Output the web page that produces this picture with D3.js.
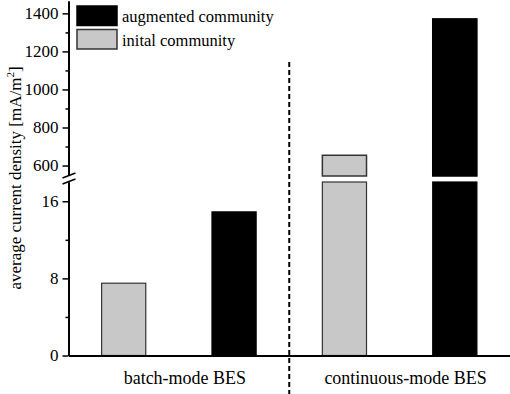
<!DOCTYPE html>
<html>
<head>
<meta charset="utf-8">
<script src="https://cdn.jsdelivr.net/npm/d3@7"></script>
<style>
  body { margin: 0; background: #fff; }
  svg text { font-family: "Liberation Serif", "Times New Roman", serif; }
</style>
</head>
<body>
<svg id="chart" width="510" height="394"></svg>
<script>
// data
var groups = ["batch-mode BES", "continuous-mode BES"]
var series = ["inital community", "augmented community"]
var initialValues = [7.5, 654]
var augmentedValues = [14.9, 1371]
var upperTicks = [600, 800, 1000, 1200, 1400]
var upperMinor = [700, 900, 1100, 1300]
var lowerTicks = [0, 8, 16]
var lowerMinor = [4, 12]

var colors = { "inital community": "#c8c8c8", "augmented community": "#000" }
var strokes = { "inital community": "#333", "augmented community": "#000" }

var rows = []
groups.forEach(function(g, i) {
    rows.push({ group: g, series: series[0], value: initialValues[i] })
    rows.push({ group: g, series: series[1], value: augmentedValues[i] })
})

var svg = d3.select("#chart")
var left = 68.5, right = 510, bottom = 355.5

var x = d3.scaleBand().domain(groups).range([left, right]).padding(0)
var xIn = d3.scaleBand().domain(series).range([0, x.bandwidth()])
    .paddingInner(0.6).paddingOuter(0.3)

// broken y axis: lower and upper segments
var lowMax = 18, upMin = 545
var yLow = d3.scaleLinear().domain([0, lowMax]).range([bottom, 182])
var yUp = d3.scaleLinear().domain([upMin, 1465]).range([176, 1])

// bars
var bars = svg.append("g")
rows.forEach(function(d) {
    var bx = x(d.group) + xIn(d.series)
    var top = d.value > lowMax ? yLow(lowMax) : yLow(d.value)
    bars.append("rect")
        .attr("x", bx).attr("y", top)
        .attr("width", xIn.bandwidth())
        .attr("height", yLow(0) - top)
        .attr("fill", colors[d.series])
        .attr("stroke", strokes[d.series])
        .attr("stroke-width", 1.2)
    if (d.value > lowMax) {
        bars.append("rect")
            .attr("x", bx).attr("y", yUp(d.value))
            .attr("width", xIn.bandwidth())
            .attr("height", yUp(upMin) - yUp(d.value))
            .attr("fill", colors[d.series])
            .attr("stroke", strokes[d.series])
            .attr("stroke-width", 1.5)
    }
})

// y axes
function styleAxis(g) {
    g.attr("font-family", "Liberation Serif").attr("font-size", 17)
    g.selectAll("path").attr("stroke", "#000").attr("stroke-width", 2)
    g.selectAll("line").attr("stroke", "#000").attr("stroke-width", 1.5)
    g.selectAll("text").attr("fill", "#000")
}

var fmt = d3.format("d")
svg.append("g").attr("transform", "translate(" + left + ",0)")
    .call(d3.axisLeft(yUp).tickValues(upperMinor).tickSize(3).tickFormat("").tickSizeOuter(0))
    .call(styleAxis)
svg.append("g").attr("transform", "translate(" + left + ",0)")
    .call(d3.axisLeft(yUp).tickValues(upperTicks).tickSize(6).tickPadding(4).tickFormat(fmt).tickSizeOuter(0))
    .call(styleAxis)
svg.append("g").attr("transform", "translate(" + left + ",0)")
    .call(d3.axisLeft(yLow).tickValues(lowerMinor).tickSize(3).tickFormat("").tickSizeOuter(0))
    .call(styleAxis)
svg.append("g").attr("transform", "translate(" + left + ",0)")
    .call(d3.axisLeft(yLow).tickValues(lowerTicks).tickSize(6).tickPadding(4).tickFormat(fmt).tickSizeOuter(0))
    .call(styleAxis)

// axis break marks
var brk = svg.append("g")
brk.append("line").attr("x1", left).attr("x2", left)
    .attr("y1", yUp(upMin)).attr("y2", yLow(lowMax))
    .attr("stroke", "#fff").attr("stroke-width", 4)
;[0, 6].forEach(function(off) {
    brk.append("line")
        .attr("x1", left - 6).attr("y1", 178 + off)
        .attr("x2", left + 7).attr("y2", 173 + off)
        .attr("stroke", "#000").attr("stroke-width", 1.5)
})

// x axis
var xAxis = svg.append("g").attr("transform", "translate(0," + bottom + ")")
    .call(d3.axisBottom(x).tickSize(0).tickPadding(16).tickSizeOuter(0))
    .call(styleAxis)
xAxis.selectAll("text").attr("dx", 6).attr("font-size", 18)

// divider
svg.append("line")
    .attr("x1", x(groups[1])).attr("x2", x(groups[1]))
    .attr("y1", 62).attr("y2", 394)
    .attr("stroke", "#000").attr("stroke-width", 2)
    .attr("stroke-dasharray", "5,3")

// y label
svg.append("text")
    .attr("transform", "translate(21,178) rotate(-90)")
    .attr("text-anchor", "middle")
    .attr("font-size", 17)
    .html('average current density [mA/m<tspan dy="-7" font-size="11">2</tspan><tspan dy="7">]</tspan>')

// legend
var legend = svg.append("g")
series.slice().reverse().forEach(function(s, i) {
    legend.append("rect")
        .attr("x", 77).attr("y", 6 + i * 23.5)
        .attr("width", 40).attr("height", 19.5)
        .attr("fill", colors[s]).attr("stroke", strokes[s]).attr("stroke-width", 1.5)
    legend.append("text")
        .attr("x", 122).attr("y", 22 + i * 23.5)
        .attr("font-size", 16.5)
        .text(s)
})
</script>
</body>
</html>
